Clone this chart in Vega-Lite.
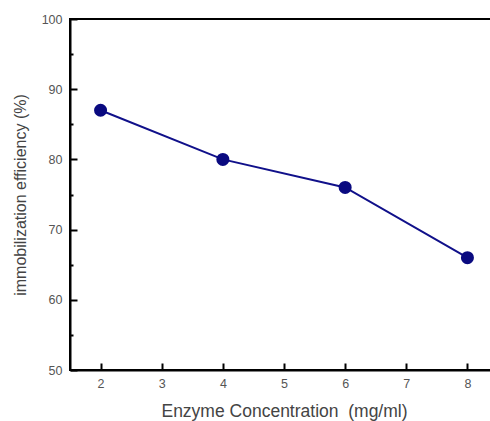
{
  "$schema": "https://vega.github.io/schema/vega-lite/v6.json",
  "autosize": "none",
  "padding": {"left": 70, "top": 19, "right": 0, "bottom": 51},
  "width": 428,
  "height": 351,
  "background": "white",
  "config": {
    "view": {"stroke": "black", "strokeWidth": 2},
    "font": "Liberation Sans"
  },
  "data": {"values": [
    {"conc": 2, "eff": 87},
    {"conc": 4, "eff": 80},
    {"conc": 6, "eff": 76},
    {"conc": 8, "eff": 66}
  ]},
  "encoding": {
    "x": {"field": "conc", "type": "quantitative",
      "scale": {"domain": [1.5, 8.5], "nice": false, "zero": false},
      "axis": {"title": "Enzyme Concentration\u00a0\u00a0(mg/ml)", "values": [2,2.5,3,3.5,4,4.5,5,5.5,6,6.5,7,7.5,8],
        "format": "d",
        "labelExpr": "datum.value % 1 === 0 ? datum.label : ''",
        "grid": false, "domainColor": "black", "domainWidth": 2, "tickColor": "black", "tickWidth": 2,
        "tickSize": {"condition": {"test": "datum.value % 1 === 0", "value": -7}, "value": -3},
        "labelPadding": 14, "labelFontSize": 12.5, "labelColor": "#555", "titleFontSize": 17.5, "titleFontWeight": "normal", "titleColor": "#444", "titlePadding": 13}},
    "y": {"field": "eff", "type": "quantitative",
      "scale": {"domain": [50, 100], "nice": false, "zero": false},
      "axis": {"title": "immobilization efficiency (%)", "values": [50,55,60,65,70,75,80,85,90,95,100],
        "format": "d",
        "labelExpr": "datum.value % 10 === 0 ? datum.label : ''",
        "grid": false, "domainColor": "black", "domainWidth": 2, "tickColor": "black", "tickWidth": 2,
        "tickSize": {"condition": {"test": "datum.value % 10 === 0", "value": -7}, "value": -3},
        "labelPadding": 15, "labelFontSize": 12.5, "labelColor": "#555", "titleFontSize": 16, "titleFontWeight": "normal", "titleColor": "#444", "titlePadding": 13}}
  },
  "layer": [
    {"mark": {"type": "line", "color": "#10108a", "strokeWidth": 2}},
    {"mark": {"type": "point", "filled": true, "color": "#0a0a80", "size": 170, "opacity": 1}}
  ]
}
